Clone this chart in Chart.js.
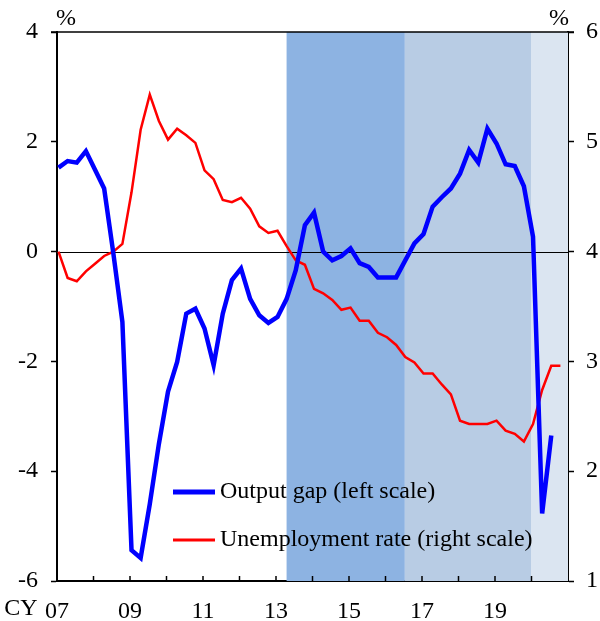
<!DOCTYPE html>
<html>
<head>
<meta charset="utf-8">
<script src="https://cdn.jsdelivr.net/npm/chart.js@4/dist/chart.umd.min.js"></script>
<style>
  html, body { margin: 0; padding: 0; background: #fff; }
  #wrap { width: 600px; height: 621px; }
</style>
</head>
<body>
<div id="wrap"><canvas id="c" width="600" height="621"></canvas></div>
<script>
// ---- Data (quarterly, CY2007 Q1 onwards) ----
const startYear = 2007;
const outputGap = [1.53, 1.65, 1.62, 1.83, 1.49, 1.15, -0.02, -1.28, -5.44, -5.58,
  -4.6, -3.5, -2.55, -2.01, -1.13, -1.04, -1.40, -2.07, -1.13, -0.52,
  -0.31, -0.86, -1.16, -1.30, -1.19, -0.86, -0.34, 0.48, 0.71, 0.0,
  -0.16, -0.08, 0.06, -0.21, -0.28, -0.47, -0.47, -0.47, -0.16, 0.15,
  0.32, 0.82, 0.99, 1.15, 1.42, 1.85, 1.62, 2.24, 1.97, 1.59,
  1.56, 1.19, 0.27, -4.77, -3.35];
const unemployment = [4.00, 3.76, 3.73, 3.82, 3.89, 3.96, 4.00, 4.07, 4.54, 5.11,
  5.43, 5.19, 5.02, 5.12, 5.06, 4.99, 4.74, 4.66, 4.47, 4.45,
  4.49, 4.39, 4.23, 4.17, 4.19, 4.05, 3.92, 3.88, 3.66, 3.62,
  3.56, 3.47, 3.49, 3.37, 3.37, 3.26, 3.22, 3.15, 3.04, 2.99,
  2.89, 2.89, 2.79, 2.70, 2.46, 2.43, 2.43, 2.43, 2.46, 2.37,
  2.34, 2.27, 2.43, 2.74, 2.96, 2.96];
const xTickYears = [2007, 2009, 2011, 2013, 2015, 2017, 2019];
const leftTicks = [-6, -4, -2, 0, 2, 4];
const rightTicks = [1, 2, 3, 4, 5, 6];
const shadeStart = [2013.29, 2016.53, 2020.0];
const shadeEnd = [2016.53, 2020.0, 2021.0];
const shadeColors = ['#8DB3E2', '#B8CCE4', '#DBE5F1'];
const seriesNames = ['Output gap (left scale)', 'Unemployment rate (right scale)'];

// quarter index -> calendar position (mid first month of quarter)
const qx = i => startYear + i / 4 + 1 / 24;
const gapPts = outputGap.map((v, i) => ({ x: qx(i), y: v }));
const unPts = unemployment.map((v, i) => ({ x: qx(i), y: v }));

const FONT = "'Liberation Serif', 'Times New Roman', serif";
Chart.defaults.font.family = FONT;
Chart.defaults.color = '#000';

const shadePlugin = {
  id: 'shade',
  beforeDatasetsDraw(chart) {
    const { ctx, chartArea: a, scales: { x } } = chart;
    ctx.save();
    for (let k = 0; k < shadeStart.length; k++) {
      const x0 = x.getPixelForValue(shadeStart[k]);
      const x1 = x.getPixelForValue(shadeEnd[k]);
      ctx.fillStyle = shadeColors[k];
      ctx.fillRect(x0, a.top, x1 - x0, a.bottom - a.top);
    }
    // zero line on top of shading
    const y0 = Math.round(chart.scales.yL.getPixelForValue(0)) + 0.5;
    ctx.strokeStyle = '#000';
    ctx.lineWidth = 1;
    ctx.beginPath();
    ctx.moveTo(a.left, y0);
    ctx.lineTo(a.right, y0);
    ctx.stroke();
    ctx.restore();
  }
};

const decorPlugin = {
  id: 'decor',
  afterDraw(chart) {
    const { ctx, chartArea: a, scales: { x } } = chart;
    ctx.save();
    // inward x ticks each year
    ctx.strokeStyle = '#000';
    ctx.lineWidth = 1.5;
    for (let yr = startYear + 1; yr < 2021; yr++) {
      const px = x.getPixelForValue(yr);
      ctx.beginPath();
      ctx.moveTo(px, a.bottom);
      ctx.lineTo(px, a.bottom - 5);
      ctx.stroke();
    }
    // top border
    ctx.lineWidth = 1.5;
    ctx.beginPath();
    ctx.moveTo(a.left - 6, a.top);
    ctx.lineTo(a.right + 6, a.top);
    ctx.stroke();
    // unit labels
    ctx.fillStyle = '#000';
    ctx.font = '24px ' + FONT;
    ctx.textBaseline = 'middle';
    ctx.textAlign = 'left';
    ctx.fillText('%', a.left - 1, 19);
    ctx.textAlign = 'right';
    ctx.fillText('%', a.right + 1, 19);
    // CY prefix
    ctx.textAlign = 'right';
    ctx.fillText('CY', x.getPixelForValue(startYear) - 19.5, 609);
    // legend
    const lx0 = a.left + 116, lx1 = a.left + 158, tx = a.left + 163;
    const ly = [492, 540];
    const lw = [5, 3];
    const lc = ['#0000FF', '#FF0000'];
    ctx.font = '24px ' + FONT;
    ctx.textAlign = 'left';
    for (let k = 0; k < 2; k++) {
      ctx.strokeStyle = lc[k];
      ctx.lineWidth = lw[k];
      ctx.beginPath();
      ctx.moveTo(lx0, ly[k]);
      ctx.lineTo(lx1, ly[k]);
      ctx.stroke();
      ctx.fillStyle = '#000';
      ctx.fillText(seriesNames[k], tx, ly[k]);
    }
    ctx.restore();
  }
};

new Chart(document.getElementById('c'), {
  type: 'line',
  data: {
    datasets: [
      { label: seriesNames[0], data: gapPts, yAxisID: 'yL', borderColor: '#0000FF',
        borderWidth: 4.5, pointRadius: 0, tension: 0, fill: false, order: 0 },
      { label: seriesNames[1], data: unPts, yAxisID: 'yR', borderColor: '#FF0000',
        borderWidth: 2.5, pointRadius: 0, tension: 0, fill: false, order: 1 }
    ]
  },
  plugins: [shadePlugin, decorPlugin],
  options: {
    responsive: false,
    animation: false,
    layout: { padding: { top: 32, left: 0, right: 0, bottom: 0 } },
    plugins: { legend: { display: false }, tooltip: { enabled: false } },
    scales: {
      x: {
        type: 'linear', min: 2007, max: 2021,
        afterBuildTicks: s => { s.ticks = xTickYears.map(v => ({ value: v })); },
        ticks: {
          autoSkip: false, maxRotation: 0, padding: 16,
          font: { size: 24, family: FONT }, color: '#000',
          callback: v => String(v % 100).padStart(2, '0')
        },
        grid: { display: true, drawOnChartArea: false, drawTicks: false },
        border: { display: true, color: '#000', width: 2 },
        afterFit: s => { s.height = 40; }
      },
      yL: {
        position: 'left', min: -6, max: 4,
        afterBuildTicks: s => { s.ticks = leftTicks.map(v => ({ value: v })); },
        ticks: { padding: 13, font: { size: 24, family: FONT }, color: '#000',
          callback: v => String(v) },
        grid: { drawOnChartArea: false, drawTicks: true, tickLength: 6, tickColor: '#000', tickWidth: 1.5 },
        border: { display: true, color: '#000', width: 2 },
        afterFit: s => { s.width = 57; }
      },
      yR: {
        position: 'right', min: 1, max: 6,
        afterBuildTicks: s => { s.ticks = rightTicks.map(v => ({ value: v })); },
        ticks: { padding: 12, font: { size: 24, family: FONT }, color: '#000',
          callback: v => String(v) },
        grid: { drawOnChartArea: false, drawTicks: true, tickLength: 6, tickColor: '#000', tickWidth: 1.5 },
        border: { display: true, color: '#000', width: 2 },
        afterFit: s => { s.width = 32; }
      }
    }
  }
});
</script>
</body>
</html>
